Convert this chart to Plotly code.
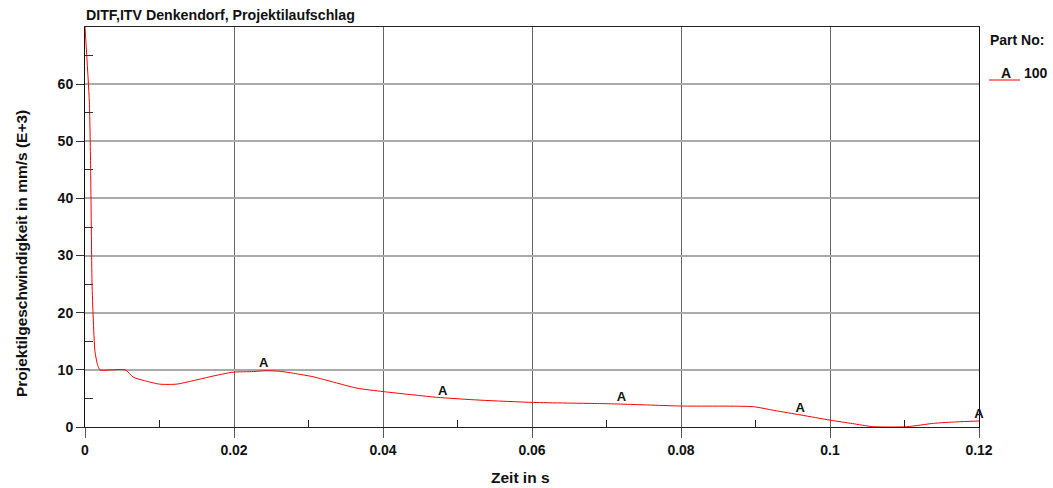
import plotly.graph_objects as go

# Time (s) and projectile velocity (mm/s, E+3)
zeit = [0.0, 0.00058, 0.00076, 0.00094, 0.0011, 0.00134, 0.0017, 0.002, 0.0035, 0.0054,
        0.0065, 0.008, 0.01, 0.0123, 0.0145, 0.0168, 0.0199, 0.0226, 0.0243, 0.0262,
        0.028, 0.0306, 0.0335, 0.0365, 0.040, 0.0435, 0.0472, 0.053, 0.0602, 0.0691,
        0.0722, 0.080, 0.0897, 0.0925, 0.0961, 0.100, 0.103, 0.1058, 0.1103, 0.1139,
        0.117, 0.12]
geschw = [70.0, 56.9, 44.7, 25.4, 19.1, 13.2, 10.8, 10.0, 10.0, 10.0,
          8.7, 8.1, 7.5, 7.5, 8.1, 8.8, 9.6, 9.7, 9.85, 9.75,
          9.4, 8.8, 7.8, 6.8, 6.2, 5.7, 5.2, 4.7, 4.3, 4.1,
          4.0, 3.67, 3.55, 2.9, 2.1, 1.2, 0.6, 0.05, 0.05, 0.64,
          0.9, 1.05]

# Marker label points ("A")
marker_t = [0.024, 0.048, 0.072, 0.096, 0.12]
marker_v = [9.85, 5.1, 4.05, 2.1, 1.05]
marker_txt = ["A", "A", "A", "A", "A"]

x_ticks = [0, 0.02, 0.04, 0.06, 0.08, 0.1, 0.12]
x_ticklabels = ["0", "0.02", "0.04", "0.06", "0.08", "0.1", "0.12"]
y_ticks = [0, 10, 20, 30, 40, 50, 60]

FONT = "Liberation Sans, Arial, sans-serif"
PW, PH = 894.0, 400.0  # plot area in px


def px(X):
    return (X - 85) / PW


def py(Y):
    return (427 - Y) / PH


fig = go.Figure()
fig.add_trace(go.Scatter(x=zeit, y=geschw, mode="lines",
                         line=dict(color="#ff0000", width=1, shape="spline", smoothing=0.6),
                         hoverinfo="x+y", showlegend=False))
fig.add_trace(go.Scatter(x=marker_t, y=marker_v, mode="text",
                         text=["<b>%s</b>" % t for t in marker_txt],
                         textposition="top center",
                         textfont=dict(family=FONT, size=13, color="#111111"),
                         showlegend=False, cliponaxis=False))

fig.update_layout(
    width=1053, height=488,
    margin=dict(l=85, r=74, t=27, b=61),
    paper_bgcolor="white", plot_bgcolor="white",
    font=dict(family=FONT, size=14, color="#111111"),
    showlegend=False,
)

fig.update_xaxes(
    range=[0, 0.12], tickvals=x_ticks, ticktext=["<b>%s</b>" % t for t in x_ticklabels],
    showgrid=True, gridcolor="#666666", gridwidth=1,
    showline=True, linecolor="#222222", linewidth=1, mirror=True,
    ticks="outside", ticklen=10, tickcolor="#555555", zeroline=False,
    minor=dict(tickvals=[0.01, 0.03, 0.05, 0.07, 0.09, 0.11], ticks="inside",
               ticklen=7, tickcolor="#222222", showgrid=False),
    tickfont=dict(size=14),
)
fig.update_yaxes(
    range=[0, 70], tickvals=y_ticks, ticktext=["<b>%d</b>" % v for v in y_ticks],
    showgrid=True, gridcolor="#aaaaaa", gridwidth=2,
    showline=True, linecolor="#111111", linewidth=1, mirror=True,
    ticks="outside", ticklen=8, tickcolor="#333333", zeroline=False,
    minor=dict(tickvals=[5, 15, 25, 35, 45, 55, 65], ticks="inside",
               ticklen=8, tickcolor="#333333", showgrid=False),
    tickfont=dict(size=14),
)

ann = dict(xref="paper", yref="paper", showarrow=False)
fig.add_annotation(text="<b>DITF,ITV Denkendorf, Projektilaufschlag</b>",
                   x=px(84), y=py(15), xanchor="left", yanchor="middle",
                   font=dict(size=14.2), **ann)
fig.add_annotation(text="<b>Zeit in s</b>", x=px(520), y=py(477),
                   xanchor="center", yanchor="middle", font=dict(size=15.5), **ann)
fig.add_annotation(text="<b>Projektilgeschwindigkeit in mm/s (E+3)</b>",
                   x=px(21), y=py(254), xanchor="center", yanchor="middle",
                   textangle=-90, font=dict(size=15.5), **ann)

# Legend block on the right
fig.add_annotation(text="<b>Part No:</b>", x=px(988), y=py(40),
                   xanchor="left", yanchor="middle", font=dict(size=14), **ann)
fig.add_annotation(text="<b>A</b>", x=px(1006), y=py(73),
                   xanchor="center", yanchor="middle", font=dict(size=14), **ann)
fig.add_annotation(text="<b>100</b>", x=px(1022), y=py(73),
                   xanchor="left", yanchor="middle", font=dict(size=14), **ann)
fig.add_shape(type="line", xref="paper", yref="paper",
              x0=px(989), x1=px(1020), y0=py(80), y1=py(80),
              line=dict(color="#ff0000", width=1))

fig.write_html("out.html", config={"displayModeBar": False},
               post_script="document.body.style.margin='0';"
                           "document.body.style.overflow='hidden';")
